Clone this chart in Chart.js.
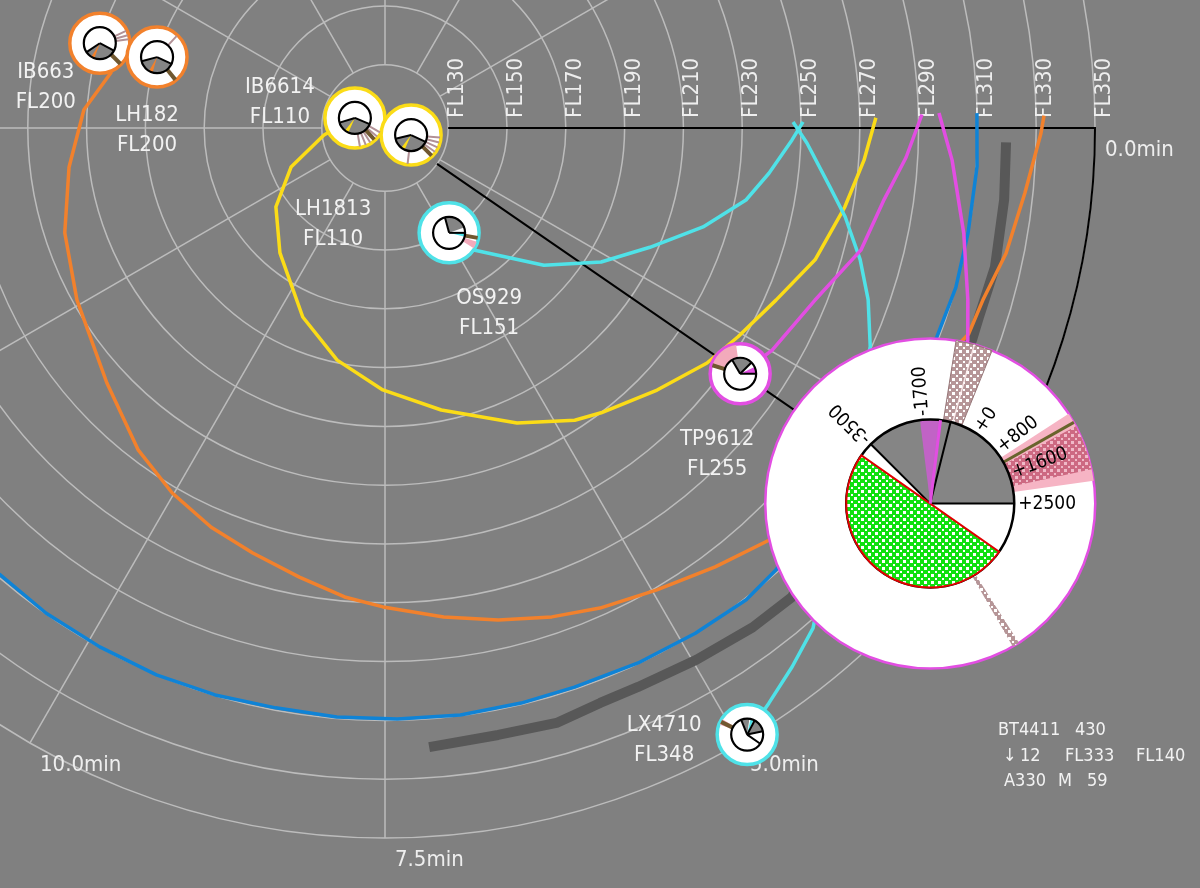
<!DOCTYPE html>
<html>
<head>
<meta charset="utf-8">
<title>Vertical situation radar</title>
<script src="https://cdn.jsdelivr.net/npm/chart.js@4.4.1/dist/chart.umd.min.js"></script>
<style>
  html, body { margin: 0; padding: 0; background: #808080; }
  #wrap { width: 1200px; height: 888px; }
</style>
</head>
<body>
<div id="wrap"><canvas id="radar" width="1200" height="888"></canvas></div>
<script>
// radius = flight level, angle = minutes ahead (12 deg per minute, clockwise from east)
const FL0 = 108.5;
const flTicks = [130, 150, 170, 190, 210, 230, 250, 270, 290, 310, 330, 350];
const timeTicks = [0, 2.5, 5, 7.5, 10, 12.5, 15, 17.5, 20, 22.5, 25, 27.5];

// traffic shown as small pies
const callsigns = ['IB663', 'LH182', 'IB6614', 'LH1813', 'OS929', 'TP9612', 'LX4710'];
const flLabels = ['FL200', 'FL200', 'FL110', 'FL110', 'FL151', 'FL255', 'FL348'];
const acMin = [16.38, 16.44, 16.54, 1.26, 4.88, 2.89, 4.93];
const acFL = [209.7, 189.7, 119.3, 117.7, 150.3, 255.4, 348.8];

// pie contents of each small glyph (angles in degrees)
const acGray = [[[28, 146]], [[25, 165]], [[23, 163]], [[25, 167]], [[-105, -20]], [[-120, -45]], [[-112, -82], [-62, -12]]];
const acWedge = [[110, 122], [106, 120], [114, 128], [114, 128], [0, 14], [-25, 0], [-78, -66]];
const acLines = [[28, 146], [25, 165], [23, 163], [25, 167], [-105, 0], [-120, -45, 0], [-112, -62, -12, 35]];
const acStrips = [[-25, -16, -8], [-47], [30, 40, 58, 68, 80], [5, 15, 25, 35, 97], [], [], []];
const acBrown = [[45], [51], [48], [45], [10], [197], [206]];
const acPink = [[], [], [], [], [[18, 32]], [[198, 262]], [[200, 212]]];

// selected aircraft
const selMin = 2.88;
const selFL = 333.7;
const vsTicks = [-3500, -1700, 0, 800, 1600, 2500];
const vsLabels = ['-3500', '-1700', '+0', '+800', '+1600', '+2500'];
const infoRows = [['BT4411', '430'], ['\u2193', '12', 'FL333', 'FL140'], ['A330', 'M', '59']];

// predicted tracks, [minutes, FL]
const orangeTrack = [[16.38, 209.7], [15.95, 203.6], [15.29, 211.1], [14.41, 216.8], [13.49, 223.1], [12.57, 228.5],
  [11.46, 236.8], [10.62, 246.5], [10.02, 252.2], [9.46, 256.6], [8.94, 259.9], [8.40, 264.0], [7.91, 268.6],
  [7.52, 271.4], [6.93, 276.0], [6.42, 280.2], [5.93, 284.2], [5.49, 287.4], [4.96, 290.8], [4.42, 295.3],
  [3.92, 300.1], [1.62, 319.0], [1.34, 320.1], [0.95, 324.0], [0.48, 327.3], [0.04, 331.6], [-0.09, 332.7]];
const blueTrack = [[-0.12, 309.9], [0.31, 310.3], [0.85, 310.0], [1.30, 310.1], [1.73, 309.2], [4.04, 309.2],
  [4.38, 310.6], [4.87, 310.2], [5.39, 309.8], [5.94, 309.3], [6.39, 309.5], [6.89, 309.8], [7.40, 309.6],
  [7.89, 309.5], [8.39, 309.2], [8.89, 309.8], [9.39, 310.1], [9.90, 309.9], [10.41, 309.8], [10.90, 309.1], [11.50, 309.5]];
const grayTrack = [[0.11, 319.8], [0.55, 320.5], [1.07, 321.3], [1.47, 320.5], [1.66, 320.8], [4.09, 319.7],
  [4.47, 319.4], [4.97, 318.1], [5.47, 317.2], [5.79, 317.3], [6.16, 319.1], [6.62, 318.5], [7.16, 319.6]];
const cyanTrackA = [[4.88, 150.3], [4.47, 160.1], [3.40, 179.9], [2.65, 195.0], [2.02, 207.3], [1.44, 221.8],
  [0.94, 233.7], [0.56, 240.0], [0.14, 247.0], [-0.07, 250.7]];
const cyanTrackB = [[-0.07, 247.3], [0.17, 252.1], [0.63, 261.2], [0.91, 267.9], [1.29, 276.2], [1.63, 282.9],
  [2.02, 289.5], [4.12, 332.4], [4.41, 338.2], [4.69, 343.7], [4.93, 348.8]];
const yellowTrack = [[16.54, 119.3], [14.45, 129.4], [13.12, 143.1], [12.01, 154.3], [10.84, 164.0], [9.46, 178.6],
  [8.47, 189.1], [7.54, 197.6], [6.56, 206.3], [5.49, 218.4], [4.75, 227.0], [4.40, 230.1], [3.66, 237.0],
  [3.01, 244.1], [2.55, 248.0], [1.98, 253.8], [1.42, 261.5], [0.81, 267.2], [0.32, 271.8], [-0.10, 275.5]];
const magentaTrackA = [[2.89, 255.4], [2.49, 260.3], [1.82, 266.0], [1.20, 275.6], [0.68, 280.0], [0.27, 286.0], [-0.12, 291.2]];
const magentaTrackB = [[-0.13, 297.0], [0.27, 301.7], [0.86, 308.6], [1.37, 315.2], [1.67, 319.5], [2.88, 333.7]];

const ORANGE = '#f2812c', YELLOW = '#fbdc17', CYAN = '#4fe2e8', MAGENTA = '#e24ee2', BLUE = '#0f83d6';
const acColors = [ORANGE, ORANGE, YELLOW, YELLOW, CYAN, MAGENTA, CYAN];
// label position relative to glyph centre (first line), px
const labelOffset = [[-54, 29], [-10, 58], [-75, -31], [-78, 74], [40, 65], [-23, 66], [-83, -9]];
const FONT = px => px + "px 'DejaVu Sans Condensed', 'DejaVu Sans', sans-serif";
const D2R = Math.PI / 180;

function polar(m, fl) {
  const a = m * 12 * D2R, u = fl - FL0;
  return { x: u * Math.cos(a), y: u * Math.sin(a) };
}
const toPoints = track => track.map(p => polar(p[0], p[1]));

function geo(chart) {
  const xs = chart.scales.x, ys = chart.scales.y;
  const cx = xs.getPixelForValue(0), cy = ys.getPixelForValue(0);
  return { cx, cy, k: xs.getPixelForValue(1) - cx };
}

function wedge(ctx, x, y, r0, r1, a0, a1) {
  ctx.beginPath();
  ctx.arc(x, y, r1, a0 * D2R, a1 * D2R);
  if (r0 > 0) ctx.arc(x, y, r0, a1 * D2R, a0 * D2R, true);
  else ctx.lineTo(x, y);
  ctx.closePath();
}
function ray(ctx, x, y, r0, r1, a) {
  const c = Math.cos(a * D2R), s = Math.sin(a * D2R);
  ctx.beginPath();
  ctx.moveTo(x + r0 * c, y + r0 * s);
  ctx.lineTo(x + r1 * c, y + r1 * s);
  ctx.stroke();
}

let patterns = null;
function makePattern(ctx, bg, dot) {
  const c = document.createElement('canvas');
  c.width = c.height = 7;
  const g = c.getContext('2d');
  g.fillStyle = bg;
  g.fillRect(0, 0, 7, 7);
  g.fillStyle = dot;
  g.fillRect(0, 0, 3, 3);
  g.fillRect(4, 4, 2, 2);
  return ctx.createPattern(c, 'repeat');
}

function drawSmallGlyph(ctx, x, y, i) {
  const rIn = 16, rOut = 29;
  acPink[i].forEach(w => {
    ctx.fillStyle = '#f2aabb';
    wedge(ctx, x, y, rIn, rOut, w[0], w[1]);
    ctx.fill();
  });
  ctx.strokeStyle = 'rgb(178,145,150)';
  ctx.lineWidth = 2;
  acStrips[i].forEach(a => ray(ctx, x, y, rIn, rOut, a));
  ctx.strokeStyle = 'rgb(112,88,48)';
  ctx.lineWidth = 4;
  acBrown[i].forEach(a => ray(ctx, x, y, rIn, rOut, a));
  ctx.fillStyle = '#858585';
  acGray[i].forEach(w => { wedge(ctx, x, y, 0, rIn, w[0], w[1]); ctx.fill(); });
  ctx.fillStyle = acColors[i];
  wedge(ctx, x, y, 0, rIn, acWedge[i][0], acWedge[i][1]);
  ctx.fill();
  ctx.strokeStyle = '#000';
  ctx.lineWidth = 2;
  acLines[i].forEach(a => ray(ctx, x, y, 0, rIn, a));
  ctx.lineWidth = 2.2;
  ctx.beginPath();
  ctx.arc(x, y, rIn, 0, 2 * Math.PI);
  ctx.stroke();
}

function drawSelected(ctx, x, y) {
  const rIn = 84, rOut = 165;
  // outer ring bands
  ctx.fillStyle = patterns.rosy;
  wedge(ctx, x, y, rIn, rOut, -81, -68);
  ctx.fill();
  ctx.strokeStyle = 'rgb(150,118,120)';
  ctx.lineWidth = 1;
  ctx.stroke();
  ctx.strokeStyle = 'rgba(255,240,240,0.9)';
  ctx.lineWidth = 1.5;
  ray(ctx, x, y, rIn, rOut, -74.5);
  ctx.fillStyle = '#f6b4c4';
  wedge(ctx, x, y, rIn, rOut, -33, -8);
  ctx.fill();
  ctx.fillStyle = patterns.rose;
  wedge(ctx, x, y, rIn, rOut, -28, -12);
  ctx.fill();
  ctx.strokeStyle = 'rgb(105,100,45)';
  ctx.lineWidth = 3;
  ray(ctx, x, y, rIn, rOut, -29.5);
  ctx.fillStyle = patterns.rosy;
  wedge(ctx, x, y, rIn, rOut, 57.5, 60);
  ctx.fill();

  // inner pie
  ctx.fillStyle = '#fff';
  ctx.beginPath();
  ctx.arc(x, y, rIn, 0, 2 * Math.PI);
  ctx.fill();
  ctx.fillStyle = '#858585';
  wedge(ctx, x, y, 0, rIn, 225, 360);
  ctx.fill();
  ctx.fillStyle = 'rgba(200,95,205,0.9)';
  wedge(ctx, x, y, 0, rIn, 263, 277);
  ctx.fill();
  ctx.strokeStyle = '#000';
  ctx.lineWidth = 2.5;
  ctx.beginPath();
  ctx.arc(x, y, rIn, 0, 2 * Math.PI);
  ctx.stroke();
  ctx.lineWidth = 2;
  [0, 225, 284].forEach(a => ray(ctx, x, y, 0, rIn, a));
  ctx.fillStyle = patterns.green;
  wedge(ctx, x, y, 0, rIn, 35, 215);
  ctx.fill();
  ctx.strokeStyle = '#e00000';
  ctx.lineWidth = 2;
  ctx.stroke();
  ctx.strokeStyle = MAGENTA;
  ctx.lineWidth = 3;
  ray(ctx, x, y, 0, rIn, 277);

  // vertical speed labels
  ctx.fillStyle = '#000';
  ctx.font = FONT(19);
  ctx.textAlign = 'left';
  ctx.textBaseline = 'middle';
  vsTicks.forEach((vs, j) => {
    const a = -(2500 - vs) / 6000 * 135;
    ctx.save();
    ctx.translate(x, y);
    ctx.rotate(a * D2R);
    ctx.fillText(vsLabels[j], 88, 0);
    ctx.restore();
  });
}

const radarPlugin = {
  id: 'radar',
  beforeDraw(chart) {
    const ctx = chart.ctx;
    ctx.save();
    ctx.fillStyle = '#808080';
    ctx.fillRect(0, 0, chart.width, chart.height);
    ctx.restore();
    if (!patterns) {
      patterns = {
        green: makePattern(ctx, '#10e010', '#ffffff'),
        rosy: makePattern(ctx, 'rgb(182,150,152)', '#ffffff'),
        rose: makePattern(ctx, 'rgb(205,105,130)', 'rgb(240,185,200)')
      };
    }
  },
  beforeDatasetsDraw(chart) {
    const ctx = chart.ctx;
    const g = geo(chart);
    const rMin = (flTicks[0] - FL0) * g.k;
    const rMax = (flTicks[flTicks.length - 1] - FL0) * g.k;
    ctx.save();
    ctx.strokeStyle = 'rgb(188,188,188)';
    ctx.lineWidth = 1.5;
    flTicks.forEach(fl => {
      ctx.beginPath();
      ctx.arc(g.cx, g.cy, (fl - FL0) * g.k, 0, 2 * Math.PI);
      ctx.stroke();
    });
    timeTicks.forEach(t => ray(ctx, g.cx, g.cy, rMin, rMax, t * 12));

    ctx.fillStyle = '#eeeeee';
    ctx.font = FONT(22);
    ctx.textAlign = 'left';
    ctx.textBaseline = 'middle';
    timeTicks.forEach(t => {
      const a = t * 12 * D2R;
      ctx.fillText(t.toFixed(1) + 'min', g.cx + rMax * Math.cos(a) + 10, g.cy + rMax * Math.sin(a) + 22);
    });
    ctx.textBaseline = 'alphabetic';
    flTicks.forEach(fl => {
      ctx.save();
      ctx.translate(g.cx + (fl - FL0) * g.k + 15, g.cy - 10);
      ctx.rotate(-Math.PI / 2);
      ctx.fillText('FL' + fl, 0, 0);
      ctx.restore();
    });

    // sector up to the selected aircraft
    const aSel = selMin * 12 * D2R;
    ctx.strokeStyle = '#000';
    ctx.lineWidth = 2;
    ctx.beginPath();
    ctx.moveTo(g.cx + rMin, g.cy);
    ctx.lineTo(g.cx + rMax, g.cy);
    ctx.arc(g.cx, g.cy, rMax, 0, aSel);
    ctx.lineTo(g.cx + rMin * Math.cos(aSel), g.cy + rMin * Math.sin(aSel));
    ctx.stroke();
    ctx.restore();
  },
  afterDatasetDraw(chart, args) {
    const ctx = chart.ctx;
    ctx.save();
    if (args.index === 1) {
      const p = args.meta.data[0];
      drawSelected(ctx, p.x, p.y);
    } else if (args.index === 0) {
      args.meta.data.forEach((p, i) => drawSmallGlyph(ctx, p.x, p.y, i));
    }
    ctx.restore();
  },
  afterDatasetsDraw(chart) {
    const ctx = chart.ctx;
    const pts = chart.getDatasetMeta(0).data;
    ctx.save();
    ctx.fillStyle = '#f2f2f2';
    ctx.font = FONT(22);
    ctx.textAlign = 'center';
    ctx.textBaseline = 'middle';
    pts.forEach((p, i) => {
      const o = labelOffset[i];
      ctx.fillText(callsigns[i], p.x + o[0], p.y + o[1]);
      ctx.fillText(flLabels[i], p.x + o[0], p.y + o[1] + 30);
    });
    // info block of the selected flight
    const rowY = [730, 756, 781];
    const colX = [[998, 1075], [1003, 1020, 1065, 1136], [1004, 1058, 1087]];
    ctx.font = FONT(18);
    ctx.textAlign = 'left';
    infoRows.forEach((row, r) => row.forEach((s, c) => ctx.fillText(s, colX[r][c], rowY[r])));
    ctx.restore();
  }
};

function trackSet(track, color, width) {
  return {
    data: toPoints(track),
    showLine: true,
    borderColor: color,
    borderWidth: width,
    pointRadius: 0,
    tension: 0,
    fill: false,
    borderCapStyle: 'butt',
    borderJoinStyle: 'round'
  };
}

const glyphPoints = callsigns.map((c, i) => polar(acMin[i], acFL[i]));

new Chart(document.getElementById('radar'), {
  type: 'scatter',
  data: {
    datasets: [
      {
        data: glyphPoints,
        pointRadius: 30,
        pointBorderWidth: 3.5,
        pointBackgroundColor: '#ffffff',
        pointBorderColor: acColors
      },
      {
        data: [polar(selMin, selFL)],
        pointRadius: 165,
        pointBorderWidth: 2.5,
        pointBackgroundColor: '#ffffff',
        pointBorderColor: MAGENTA
      },
      trackSet(magentaTrackB, MAGENTA, 3.5),
      trackSet(magentaTrackA, MAGENTA, 3.5),
      trackSet(cyanTrackA, CYAN, 3.5),
      trackSet(cyanTrackB, CYAN, 3.5),
      trackSet(yellowTrack, YELLOW, 3.5),
      trackSet(orangeTrack, ORANGE, 3.5),
      trackSet(blueTrack, BLUE, 3.5),
      trackSet(grayTrack, 'rgb(88,88,88)', 10)
    ]
  },
  options: {
    responsive: false,
    animation: false,
    devicePixelRatio: 1,
    events: [],
    layout: { padding: 0, autoPadding: false },
    plugins: { legend: { display: false }, tooltip: { enabled: false } },
    scales: {
      x: { type: 'linear', display: false, min: -130.95, max: 277.21 },
      y: { type: 'linear', display: false, min: -43.54, max: 258.5, reverse: true }
    }
  },
  plugins: [radarPlugin]
});
</script>
</body>
</html>
